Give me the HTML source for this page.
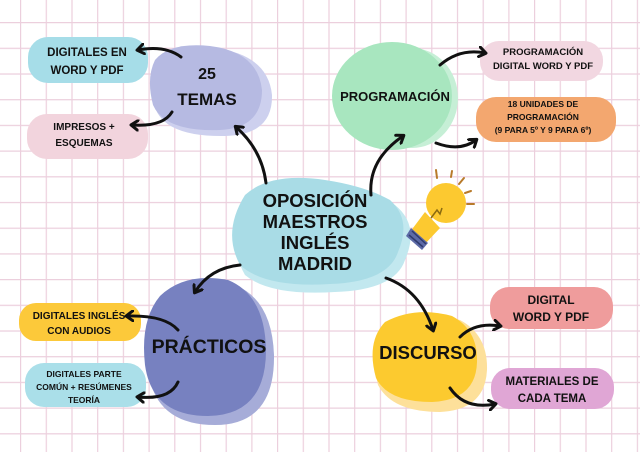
<!DOCTYPE html>
<html><head><meta charset="utf-8"><style>
html,body{margin:0;padding:0;background:#fff}
svg{display:block}
text{font-family:"Liberation Sans",sans-serif;font-weight:bold;fill:#111;text-anchor:middle}
</style></head><body>
<svg width="640" height="452" viewBox="0 0 640 452" xmlns="http://www.w3.org/2000/svg">
<defs>
<pattern id="g" x="20" y="22" width="25.7" height="25.7" patternUnits="userSpaceOnUse">
<path d="M0 0V25.7M0 0H25.7" stroke="#eccfdd" stroke-width="2.4" fill="none"/>
</pattern>
<marker id="a" markerWidth="12" markerHeight="12" refX="7" refY="6" orient="auto" markerUnits="userSpaceOnUse">
<path d="M1 1L8 6L1 11" fill="none" stroke="#111" stroke-width="3" stroke-linecap="round" stroke-linejoin="round"/>
</marker>
</defs>
<rect width="640" height="452" fill="#fff"/>
<rect width="640" height="452" fill="url(#g)"/>

<!-- pills -->
<rect x="28" y="37" width="120" height="46" rx="20" fill="#a6dde8"/>
<rect x="27" y="114" width="121" height="45" rx="20" fill="#f2d4dd"/>
<rect x="480" y="41" width="123" height="40" rx="19" fill="#f2d7e1"/>
<rect x="476" y="97" width="140" height="45" rx="20" fill="#f3a76f"/>
<rect x="19" y="303" width="122" height="38" rx="17" fill="#fcc93a"/>
<rect x="25" y="363" width="121" height="44" rx="19" fill="#aadfe9"/>
<rect x="490" y="287" width="123" height="42" rx="19" fill="#ef9c9c"/>
<rect x="491" y="368" width="123" height="41" rx="19" fill="#e0a6d5"/>

<!-- blobs -->
<path d="M160 60 Q175 40 215 48 Q268 55 272 95 Q273 135 225 136 Q168 137 156 110 Q148 80 160 60Z" fill="#cdd0ee"/>
<path d="M155 60 Q170 42 210 46 Q258 52 262 90 Q262 128 220 130 Q165 132 153 105 Q146 78 155 60Z" fill="#b6bae2"/>
<ellipse cx="412" cy="98" rx="46" ry="50" fill="#c6efd6"/>
<ellipse cx="392" cy="96" rx="60" ry="54" fill="#a8e6bf"/>
<path d="M250 200 Q275 175 330 185 Q370 190 395 205 Q420 225 405 260 Q395 290 335 292 Q270 296 245 275 Q225 240 250 200Z" fill="#c2e8ef"/>
<path d="M245 195 Q270 172 325 180 Q365 186 390 200 Q412 220 398 252 Q388 282 330 284 Q265 288 240 265 Q222 232 245 195Z" fill="#a9dce6"/>
<path d="M165 300 Q190 275 235 285 Q272 300 274 355 Q275 425 215 425 Q155 425 148 370 Q143 325 165 300Z" fill="#a6acd8"/>
<path d="M160 296 Q185 272 228 280 Q265 295 266 350 Q266 415 208 416 Q152 416 145 365 Q140 320 160 296Z" fill="#7781c0"/>
<path d="M390 325 Q420 310 460 320 Q488 335 487 370 Q485 410 440 412 Q392 412 378 385 Q368 345 390 325Z" fill="#fde09a"/>
<path d="M385 322 Q415 306 452 316 Q478 330 477 362 Q476 400 432 402 Q388 402 376 378 Q366 342 385 322Z" fill="#fcca2f"/>

<!-- bulb -->
<circle cx="446" cy="203" r="20" fill="#fcc930"/>
<path d="M425 212 L440 228 L424 245 L410 232Z" fill="#fcc930"/>
<path d="M411 228 L428 243 L422 250 L406 236Z" fill="#5d6aa6"/>
<path d="M412 231 L426 244 M409 235 L423 247" stroke="#2f3b6e" stroke-width="1.5"/>
<path d="M431 218 L437 210 L440 214 L442 208" stroke="#8a6a10" stroke-width="1.5" fill="none"/>
<path d="M436 170 L437 178 M452 171 L451 177 M464 178 L459 184 M471 191 L465 193 M474 204 L467 204" stroke="#b87a2a" stroke-width="2" stroke-linecap="round"/>

<!-- arrows -->
<g fill="none" stroke="#111" stroke-width="3" stroke-linecap="round" marker-end="url(#a)">
<path d="M181 57 Q165 45 138 50"/>
<path d="M172 112 Q163 127 132 125"/>
<path d="M266 183 Q262 150 236 127"/>
<path d="M371 195 Q368 160 403 136"/>
<path d="M440 65 Q460 48 485 53"/>
<path d="M436 143 Q460 152 476 140"/>
<path d="M240 265 Q210 268 195 292"/>
<path d="M178 330 Q165 315 127 316"/>
<path d="M178 382 Q170 400 138 397"/>
<path d="M386 278 Q420 290 433 330"/>
<path d="M460 337 Q475 322 500 326"/>
<path d="M450 388 Q465 410 495 404"/>
</g>

<!-- text -->
<text x="87" y="56" font-size="11.5">DIGITALES EN</text>
<text x="87" y="74" font-size="11.5">WORD Y PDF</text>
<text x="84" y="130" font-size="10">IMPRESOS +</text>
<text x="84" y="146" font-size="10">ESQUEMAS</text>
<text x="207" y="79" font-size="16">25</text>
<text x="207" y="105" font-size="17">TEMAS</text>
<text x="395" y="101" font-size="13">PROGRAMACIÓN</text>
<text x="543" y="55" font-size="9.5">PROGRAMACIÓN</text>
<text x="543" y="69" font-size="9.5">DIGITAL WORD Y PDF</text>
<text x="543" y="107" font-size="8.5">18 UNIDADES DE</text>
<text x="543" y="120" font-size="8.5">PROGRAMACIÓN</text>
<text x="543" y="133" font-size="8.5">(9 PARA 5º Y 9 PARA 6º)</text>
<text x="315" y="207" font-size="18.5">OPOSICIÓN</text>
<text x="315" y="228" font-size="18.5">MAESTROS</text>
<text x="315" y="249" font-size="18.5">INGLÉS</text>
<text x="315" y="270" font-size="18.5">MADRID</text>
<text x="79" y="319" font-size="10">DIGITALES INGLÉS</text>
<text x="79" y="334" font-size="10">CON AUDIOS</text>
<text x="84" y="377" font-size="8.5">DIGITALES PARTE</text>
<text x="84" y="390" font-size="8.5">COMÚN + RESÚMENES</text>
<text x="84" y="403" font-size="8.5">TEORÍA</text>
<text x="209" y="353" font-size="19.5">PRÁCTICOS</text>
<text x="428" y="359" font-size="18.5">DISCURSO</text>
<text x="551" y="304" font-size="12">DIGITAL</text>
<text x="551" y="321" font-size="12">WORD Y PDF</text>
<text x="552" y="385" font-size="11.5">MATERIALES DE</text>
<text x="552" y="402" font-size="11.5">CADA TEMA</text>
</svg>
</body></html>
